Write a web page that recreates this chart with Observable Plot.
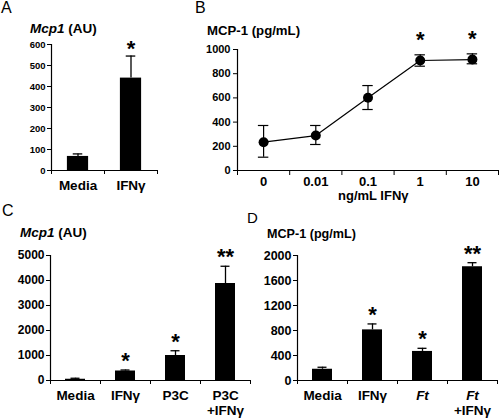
<!DOCTYPE html>
<html><head><meta charset="utf-8">
<script src="https://cdn.jsdelivr.net/npm/d3@7"></script>
<script src="https://cdn.jsdelivr.net/npm/@observablehq/plot@0.6"></script>
<style>
body{margin:0;background:#fff;}
#root{position:relative;width:500px;height:418px;font-family:"Liberation Sans",Arial,sans-serif;color:#000;overflow:hidden;background:#fff}
.p{position:absolute}
.lbl{position:absolute;white-space:nowrap;line-height:1;}
.b{font-weight:bold}
</style></head><body><div id="root"></div>
<script>
// Panel A
const catsA = ["Media", "IFNγ"];
const valA = [67, 440];
const errA = [79, 545];
const sigA = ["", "*"];
const ticksA = [0, 100, 200, 300, 400, 500, 600];

// Panel B
const dosesB = ["0", "0.01", "0.1", "1", "10"];
const valB = [234, 289, 601, 909, 917];
const loB = [110, 215, 504, 862, 882];
const hiB = [372, 372, 702, 956, 964];
const sigB = ["", "", "", "*", "*"];
const ticksB = [0, 200, 400, 600, 800, 1000];

// Panel C
const catsC = ["Media", "IFNγ", "P3C", "P3C\n+IFNγ"];
const valC = [50, 380, 1000, 3880];
const errC = [90, 420, 1190, 4570];
const sigC = ["", "*", "*", "**"];
const ticksC = [0, 1000, 2000, 3000, 4000, 5000];

// Panel D
const catsD = ["Media", "IFNγ", "Ft", "Ft\n+IFNγ"];
const valD = [180, 810, 465, 1820];
const errD = [212, 905, 515, 1885];
const sigD = ["", "*", "*", "**"];
const ticksD = [0, 400, 800, 1200, 1600, 2000];

const FONT = "'Liberation Sans', Arial, sans-serif";
const root = document.getElementById("root");

function place(svg, left, top) {
  const d = document.createElement("div");
  d.className = "p";
  d.style.left = left + "px";
  d.style.top = top + "px";
  d.appendChild(svg);
  root.appendChild(d);
  return svg;
}
function label(html, left, top, size, cls) {
  const d = document.createElement("div");
  d.className = "lbl " + (cls || "");
  d.style.left = left + "px";
  d.style.top = top + "px";
  d.style.fontSize = size + "px";
  d.innerHTML = html;
  root.appendChild(d);
}

function barPanel(o) {
  const n = o.cats.length;
  const data = o.cats.map((c, i) => ({i, c, v: o.vals[i], e: o.errs[i], s: o.sigs[i]}));
  return Plot.plot({
    width: o.width, height: o.height,
    marginLeft: o.ml, marginRight: o.mr, marginTop: o.mt, marginBottom: o.mb,
    style: {fontFamily: FONT, color: "#000", background: "transparent", overflow: "visible"},
    x: {domain: [0, n]},
    y: {domain: [0, o.ticks[o.ticks.length - 1]]},
    marks: [
      Plot.rectY(data, {x1: d => d.i + 0.3, x2: d => d.i + 0.7, y1: 0, y2: "v", fill: "#000"}),
      Plot.ruleX(data, {x: d => d.i + 0.5, y1: "v", y2: "e", stroke: "#000", strokeWidth: 1.3}),
      Plot.ruleY(data, {y: "e", x1: d => d.i + 0.41, x2: d => d.i + 0.59, stroke: "#000", strokeWidth: 1.3}),
      Plot.text(data.filter(d => d.s), {x: d => d.i + 0.5, y: "e", text: "s", dy: o.sigDy, fontSize: 22, fontWeight: "bold"}),
      Plot.ruleX([0], {stroke: "#000", strokeWidth: 1.2}),
      Plot.ruleY([0], {stroke: "#000", strokeWidth: 1.2}),
      Plot.axisY({ticks: o.ticks, tickSize: 4, tickPadding: 2, fontSize: o.tickFont, fontWeight: "bold", label: null, tickFormat: d => String(d)}),
      Plot.axisX({ticks: d3.range(n + 1), tickSize: 4, tickFormat: () => "", label: null}),
      Plot.axisX({ticks: d3.range(n).map(i => i + 0.5), tickSize: 0, tickPadding: 8, tickFormat: d => o.cats[Math.floor(d)], fontSize: 13.5, fontWeight: "bold", lineHeight: 1.15, label: null})
    ]
  });
}

// A
place(barPanel({cats: catsA, vals: valA, errs: errA, sigs: sigA, ticks: ticksA,
  width: 170, height: 200, ml: 51, mr: 13, mt: 44, mb: 30, tickFont: 9.5, sigDy: -7.5}), 0, 0);

// B
(function () {
  const data = dosesB.map((c, i) => ({i, c, v: valB[i], lo: loB[i], hi: hiB[i], s: sigB[i]}));
  const n = dosesB.length;
  const svg = Plot.plot({
    width: 320, height: 200, marginLeft: 57, marginRight: 2, marginTop: 49, marginBottom: 30,
    style: {fontFamily: FONT, color: "#000", background: "transparent", overflow: "visible"},
    x: {domain: [0, n]},
    y: {domain: [0, 1000]},
    marks: [
      Plot.ruleX(data, {x: d => d.i + 0.5, y1: "lo", y2: "hi", stroke: "#000", strokeWidth: 1.2}),
      Plot.ruleY(data, {y: "lo", x1: d => d.i + 0.4, x2: d => d.i + 0.6, stroke: "#000", strokeWidth: 1.2}),
      Plot.ruleY(data, {y: "hi", x1: d => d.i + 0.4, x2: d => d.i + 0.6, stroke: "#000", strokeWidth: 1.2}),
      Plot.line(data, {x: d => d.i + 0.5, y: "v", stroke: "#000", strokeWidth: 1.2}),
      Plot.dot(data, {x: d => d.i + 0.5, y: "v", r: 5, fill: "#000"}),
      Plot.text(data.filter(d => d.s), {x: d => d.i + 0.5, y: "hi", text: "s", dy: -15, fontSize: 22, fontWeight: "bold"}),
      Plot.ruleX([0], {stroke: "#000", strokeWidth: 1.2}),
      Plot.ruleY([0], {stroke: "#000", strokeWidth: 1.2}),
      Plot.axisY({ticks: ticksB, tickSize: 4, tickPadding: 3, fontSize: 11, fontWeight: "bold", label: null, tickFormat: d => String(d)}),
      Plot.axisX({ticks: d3.range(n + 1), tickSize: 5, tickFormat: () => "", label: null}),
      Plot.axisX({ticks: d3.range(n).map(i => i + 0.5), tickSize: 0, tickPadding: 6, tickFormat: d => dosesB[Math.floor(d)], fontSize: 13, fontWeight: "bold", label: null})
    ]
  });
  place(svg, 180, 0);
})();

// C
place(barPanel({cats: catsC, vals: valC, errs: errC, sigs: sigC, ticks: ticksC,
  width: 260, height: 218, ml: 50, mr: 10, mt: 55, mb: 38, tickFont: 12, sigDy: -9}), 0, 200);

// D
const svgD = place(barPanel({cats: catsD, vals: valD, errs: errD, sigs: sigD, ticks: ticksD,
  width: 250, height: 218, ml: 47, mr: 3, mt: 55, mb: 38, tickFont: 12.5, sigDy: -9}), 250, 200);
// italic genus abbreviation "Ft"
svgD.querySelectorAll("text, tspan").forEach(el => {
  if (el.children.length === 0 && el.textContent === "Ft") el.setAttribute("font-style", "italic");
});

// text labels
label("A", 1, 0, 16);
label("B", 195, 0, 16);
label("C", 2, 203, 16);
label("D", 247, 210, 15);
label("<i>Mcp1</i> (AU)", 30, 21.5, 13.5, "b");
label("MCP-1 (pg/mL)", 207, 24, 13.2, "b");
label("<i>Mcp1</i> (AU)", 20, 226, 13.5, "b");
label("MCP-1 (pg/mL)", 267, 228, 12.6, "b");
label("ng/mL IFNγ", 338, 189, 13, "b");
</script></body></html>
